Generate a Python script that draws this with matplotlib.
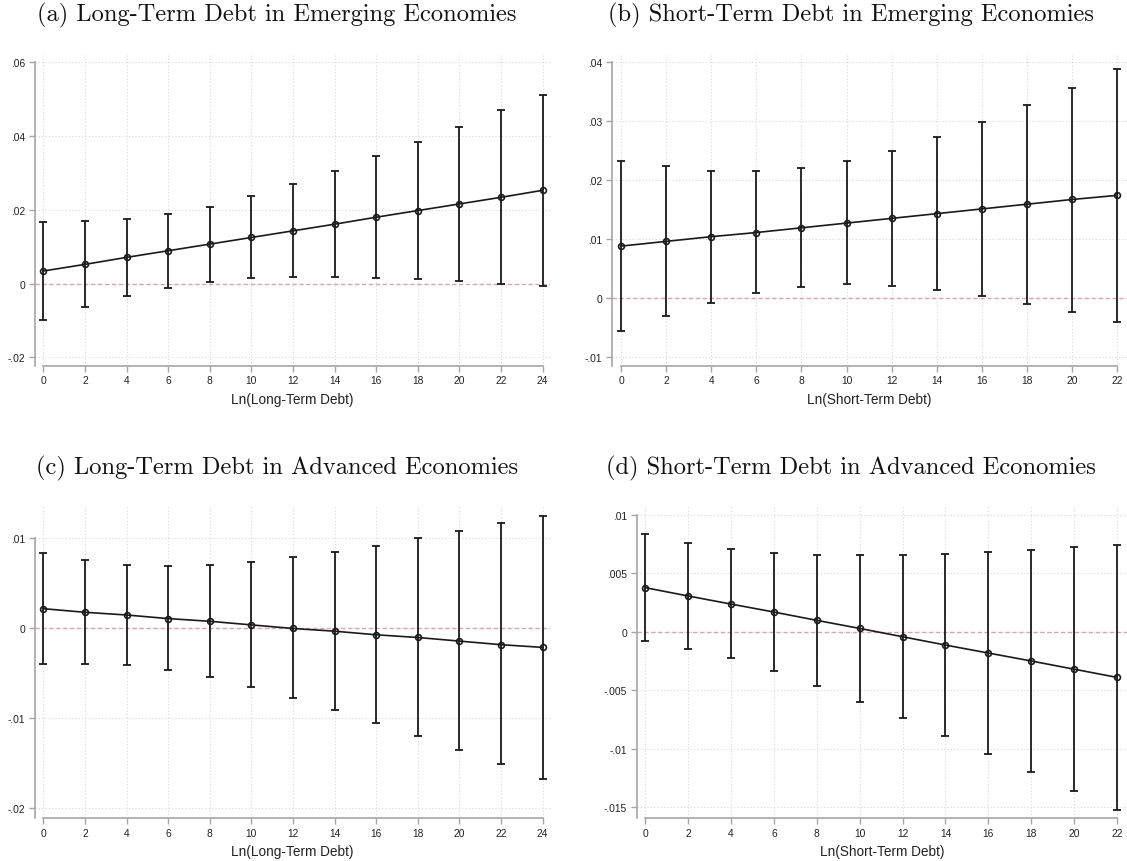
import matplotlib
matplotlib.use("Agg")
import matplotlib.pyplot as plt

# ---------------- data ----------------
x_long = [0, 2, 4, 6, 8, 10, 12, 14, 16, 18, 20, 22, 24]
x_short = [0, 2, 4, 6, 8, 10, 12, 14, 16, 18, 20, 22]

# (a) Long-term debt, emerging
a_est = [0.0034, 0.0052, 0.0071, 0.0089, 0.0107, 0.0125, 0.0143, 0.0161, 0.0180, 0.0198, 0.0216, 0.0234, 0.0253]
a_hi = [0.0168, 0.0170, 0.0175, 0.0189, 0.0209, 0.0237, 0.0269, 0.0305, 0.0345, 0.0385, 0.0426, 0.0470, 0.0512]
a_lo = [-0.0098, -0.0063, -0.0033, -0.0011, 0.0005, 0.0014, 0.0019, 0.0019, 0.0016, 0.0012, 0.0006, 0.0000, -0.0006]

# (b) Short-term debt, emerging
b_est = [0.0088, 0.0096, 0.0104, 0.0111, 0.0119, 0.0127, 0.0135, 0.0143, 0.0151, 0.0159, 0.0167, 0.0174]
b_hi = [0.0232, 0.0223, 0.0216, 0.0215, 0.0220, 0.0232, 0.0250, 0.0273, 0.0298, 0.0327, 0.0356, 0.0388]
b_lo = [-0.0056, -0.0031, -0.0008, 0.0008, 0.0019, 0.0023, 0.0020, 0.0013, 0.0003, -0.0010, -0.0024, -0.0040]

# (c) Long-term debt, advanced
c_est = [0.0022, 0.0018, 0.0015, 0.0011, 0.0008, 0.0004, 0.0000, -0.0003, -0.0007, -0.0010, -0.0014, -0.0018, -0.0021]
c_hi = [0.0084, 0.0076, 0.0071, 0.0069, 0.0070, 0.0074, 0.0079, 0.0085, 0.0092, 0.0100, 0.0108, 0.0117, 0.0125]
c_lo = [-0.0040, -0.0039, -0.0041, -0.0046, -0.0054, -0.0065, -0.0077, -0.0091, -0.0105, -0.0120, -0.0135, -0.0151, -0.0167]

# (d) Short-term debt, advanced
d_est = [0.00376, 0.00305, 0.00236, 0.00168, 0.00097, 0.00028, -0.00043, -0.00114, -0.00182, -0.0025, -0.0032, -0.0039]
d_hi = [0.00834, 0.00758, 0.00706, 0.00672, 0.00655, 0.00652, 0.00655, 0.00667, 0.0068, 0.0070, 0.0072, 0.00743]
d_lo = [-0.0008, -0.00145, -0.00228, -0.00336, -0.0046, -0.0060, -0.0074, -0.0089, -0.01046, -0.0120, -0.0136, -0.0152]

titles = ["(a) Long-Term Debt in Emerging Economies",
          "(b) Short-Term Debt in Emerging Economies",
          "(c) Long-Term Debt in Advanced Economies",
          "(d) Short-Term Debt in Advanced Economies"]
xlabels = ["Ln(Long-Term Debt)", "Ln(Short-Term Debt)",
           "Ln(Long-Term Debt)", "Ln(Short-Term Debt)"]

a_yticks = [-0.02, 0, 0.02, 0.04, 0.06]
a_ylabels = ["-.02", "0", ".02", ".04", ".06"]
b_yticks = [-0.01, 0, 0.01, 0.02, 0.03, 0.04]
b_ylabels = ["-.01", "0", ".01", ".02", ".03", ".04"]
c_yticks = [-0.02, -0.01, 0, 0.01]
c_ylabels = ["-.02", "-.01", "0", ".01"]
d_yticks = [-0.015, -0.01, -0.005, 0, 0.005, 0.01]
d_ylabels = ["-.015", "-.01", "-.005", "0", ".005", ".01"]

# ---------------- figure ----------------
W, H = 1127, 862
fig = plt.figure(figsize=(W / 100, H / 100), dpi=100)

SPINE = "#a6a6a6"
GRID = "#d9d9d9"
INK = "#1a1a1a"
ZERO = "#dca0ba"
TICKFONT = ["Liberation Sans", "DejaVu Sans"]


def px_axes(l, r, t, b):
    return fig.add_axes([l / W, 1 - b / H, (r - l) / W, (b - t) / H])


panels = [
    dict(box=(35, 550, 55, 366.7), x=x_long, est=a_est, lo=a_lo, hi=a_hi,
         yt=a_yticks, yl=a_ylabels, xlim=(-0.40, 24.36), ylim=(-0.0223, 0.0623),
         tpos=(277, 15)),
    dict(box=(612, 1127, 55, 366.7), x=x_short, est=b_est, lo=b_lo, hi=b_hi,
         yt=b_yticks, yl=b_ylabels, xlim=(-0.40, 22.44), ylim=(-0.01147, 0.04136),
         tpos=(851, 15)),
    dict(box=(35, 550, 508, 819), x=x_long, est=c_est, lo=c_lo, hi=c_hi,
         yt=c_yticks, yl=c_ylabels, xlim=(-0.40, 24.36), ylim=(-0.02106, 0.0135),
         tpos=(277, 468)),
    dict(box=(636.7, 1127, 508, 819), x=x_short, est=d_est, lo=d_lo, hi=d_hi,
         yt=d_yticks, yl=d_ylabels, xlim=(-0.40, 22.47), ylim=(-0.01591, 0.01065),
         tpos=(851, 468)),
]

for i, p in enumerate(panels):
    ax = px_axes(*p["box"])
    x = p["x"]
    est, lo, hi = p["est"], p["lo"], p["hi"]
    err = [[e - l for e, l in zip(est, lo)], [h - e for e, h in zip(est, hi)]]

    ax.axhline(0, color=ZERO, lw=1.0, ls=(0, (3, 2)), zorder=1)
    ax.errorbar(x, est, yerr=err, fmt="none", ecolor=INK, elinewidth=1.3,
                capsize=3.2, capthick=1.3, zorder=3)
    ax.plot(x, est, color=INK, lw=1.2, marker="o", ms=4.2, mfc="none",
            mec=INK, mew=1.2, zorder=4)

    ax.set_xlim(*p["xlim"])
    ax.set_ylim(*p["ylim"])
    ax.set_xticks(x)
    ax.set_xticklabels([str(v) for v in x])
    ax.set_yticks(p["yt"])
    ax.set_yticklabels(p["yl"])

    ax.grid(True, color=GRID, lw=0.8, ls=(0, (1, 2)))
    ax.set_axisbelow(True)

    for s in ("top", "right"):
        ax.spines[s].set_visible(False)
    for s in ("left", "bottom"):
        ax.spines[s].set_color(SPINE)
        ax.spines[s].set_linewidth(1.2)
    ax.spines["bottom"].set_bounds(x[0], x[-1])
    ax.spines["left"].set_bounds(p["ylim"][0], p["yt"][-1])

    ax.tick_params(axis="both", colors=SPINE, length=4.5, width=1.0,
                   labelcolor="#222222", labelsize=7.4, pad=2.5)
    for lab in ax.get_xticklabels() + ax.get_yticklabels():
        lab.set_family(TICKFONT)

    ax.set_xlabel(xlabels[i], fontsize=9.8, family=TICKFONT, color="#222222",
                  labelpad=4.5)

    tx, ty = p["tpos"]
    fig.text(tx / W, 1 - ty / H, titles[i], ha="center", va="center",
             fontsize=17.6, family="cmr10", color="#111111")

fig.savefig("out.png", dpi=100, facecolor="white")
